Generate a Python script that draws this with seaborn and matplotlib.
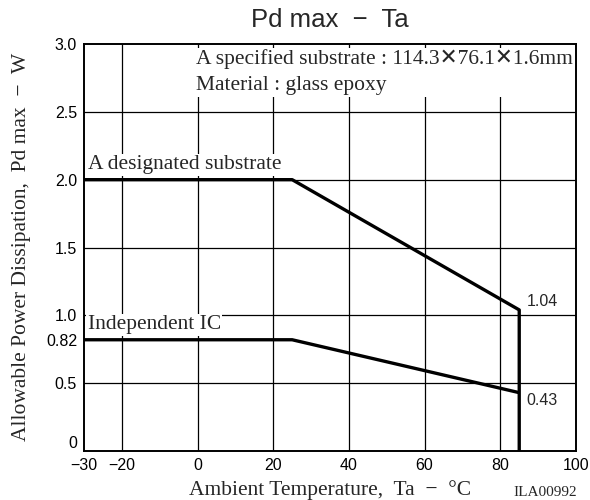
import matplotlib
matplotlib.use("Agg")
import matplotlib.pyplot as plt
import seaborn as sns
import pandas as pd

# ---- data ----
designated_x = [-30, 25, 85, 85]
designated_y = [2.0, 2.0, 1.04, 0.0]
independent_x = [-30, 25, 85]
independent_y = [0.82, 0.82, 0.43]

x_ticks = [-30, -20, 0, 20, 40, 60, 80, 100]
y_ticks = [0, 0.5, 0.82, 1.0, 1.5, 2.0, 2.5, 3.0]
y_tick_labels = ["0", "0.5", "0.82", "1.0", "1.5", "2.0", "2.5", "3.0"]
x_grid = [-20, 0, 20, 40, 60, 80]
y_grid = [0.5, 1.0, 1.5, 2.0, 2.5]

sns.set_theme(style="white")
plt.rcParams['font.family'] = ['Liberation Sans', 'DejaVu Sans']
SERIF = ['Liberation Serif', 'DejaVu Sans']

df = pd.concat([
    pd.DataFrame({"Ta": designated_x, "Pd": designated_y, "series": "designated"}),
    pd.DataFrame({"Ta": independent_x, "Pd": independent_y, "series": "independent"}),
])

fig = plt.figure(figsize=(5.9, 5.0), dpi=100)
ax = fig.add_axes([84/590, 49/500, (576-84)/590, (451-44)/500])

for xg in x_grid:
    ax.axvline(xg, color="black", lw=0.9, zorder=1)
for yg in y_grid:
    ax.axhline(yg, color="black", lw=0.9, zorder=1)

for name, sub in df.groupby("series"):
    sns.lineplot(data=sub, x="Ta", y="Pd", sort=False, estimator=None, ax=ax,
                 color="black", lw=2.4, legend=False, zorder=3,
                 solid_joinstyle="round", solid_capstyle="butt")

ax.set_xlim(-30, 100)
ax.set_ylim(0, 3.0)
ax.set_xticks(x_ticks)
ax.set_xticklabels([("\u2212%d" % -v) if v < 0 else str(v) for v in x_ticks])
ax.set_yticks(y_ticks)
ax.set_yticklabels(y_tick_labels)
ax.tick_params(axis="both", length=0, labelsize=11.5, colors="black", pad=5)
ax.get_yticklabels()[0].set_verticalalignment("bottom")
for s in ax.spines.values():
    s.set_color("black")
    s.set_linewidth(1.4)

ax.set_xlabel("")
ax.set_ylabel("")

fig.text(330/590, 1 - 490/500, "Ambient Temperature,  Ta  \u2212  \u00b0C", family=SERIF,
         fontsize=15.5, ha="center", va="center")
fig.text(22/590, 1 - 247/500, "Allowable Power Dissipation,  Pd max  \u2212  W", family=SERIF,
         fontsize=15.5, ha="center", va="center", rotation=90)
fig.text(545/590, 1 - 492/500, "ILA00992", family=SERIF, fontsize=11,
         ha="center", va="center")
fig.text(330/590, 1 - 20/500, "Pd max  \u2212  Ta", fontsize=18.5, ha="center", va="center")

box = dict(facecolor="white", edgecolor="none", pad=1.0)
ax.text(-29, 2.04, "A designated substrate", family=SERIF, fontsize=15.5,
        ha="left", va="bottom", bbox=box, zorder=4)
ax.text(-29, 0.86, "Independent IC", family=SERIF, fontsize=15.5,
        ha="left", va="bottom", bbox=box, zorder=4)
ax.text(87, 1.045, "1.04", fontsize=11.5, ha="left", va="bottom", zorder=4)
ax.text(87, 0.43, "0.43", fontsize=11.5, ha="left", va="top", zorder=4)
ax.text(-0.3, 2.79, "A specified substrate : 114.3\u271576.1\u27151.6mm\nMaterial : glass epoxy",
        family=SERIF, fontsize=15.5, ha="left", va="center", linespacing=1.5,
        bbox=box, zorder=4)

fig.savefig("out.png", dpi=100, facecolor="white")
